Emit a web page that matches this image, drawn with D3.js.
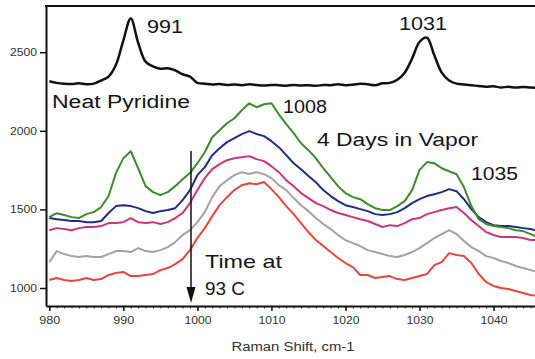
<!DOCTYPE html>
<html>
<head>
<meta charset="utf-8">
<script src="https://cdn.jsdelivr.net/npm/d3@7"></script>
<style>
  html, body { margin: 0; padding: 0; background: #fff; }
  svg { display: block; font-family: Arial, "Liberation Sans", sans-serif; }
</style>
</head>
<body>
<svg id="chart" width="535" height="359"></svg>
<script>
// ---- data ----
const shift = [980,981,982,983,984,985,986,987,988,989,990,991,992,993,994,995,996,997,998,999,
  1000,1001,1002,1003,1004,1005,1006,1007,1008,1009,1010,1011,1012,1013,1014,1015,1016,1017,1018,1019,
  1020,1021,1022,1023,1024,1025,1026,1027,1028,1029,1030,1031,1032,1033,1034,1035,1036,1037,1038,1039,
  1040,1041,1042,1043,1044,1045,1046];

const neatPyridine = [2315,2305,2300,2298,2302,2296,2300,2320,2345,2420,2576,2715,2560,2440,2410,2395,2398,2385,2360,2345,
  2305,2300,2295,2298,2292,2295,2290,2296,2292,2288,2292,2290,2287,2292,2289,2290,2286,2292,2290,2296,
  2290,2293,2300,2296,2290,2302,2305,2325,2370,2460,2565,2592,2480,2370,2320,2300,2295,2290,2285,2280,
  2283,2276,2280,2275,2279,2276,2274];

const days4 = [1451,1476,1464,1451,1445,1470,1483,1515,1585,1731,1826,1870,1762,1648,1610,1591,1610,1648,1692,1731,
  1794,1864,1959,2004,2048,2080,2131,2175,2150,2169,2175,2105,2042,1985,1921,1877,1826,1762,1705,1648,
  1604,1578,1565,1534,1508,1496,1496,1521,1553,1623,1750,1801,1794,1762,1743,1724,1642,1521,1438,1407,
  1394,1388,1381,1368,1362,1343,1324];

const stepBlue = [1445,1438,1432,1426,1426,1419,1419,1426,1477,1521,1527,1521,1508,1489,1477,1489,1496,1508,1559,1623,
  1718,1769,1845,1889,1928,1953,1979,1998,1980,1966,1934,1896,1845,1794,1756,1712,1673,1623,1585,1553,
  1527,1515,1502,1489,1470,1464,1470,1483,1508,1540,1565,1585,1597,1610,1629,1616,1565,1502,1451,1419,
  1400,1394,1394,1388,1381,1375,1362];

const stepMagenta = [1368,1381,1375,1368,1381,1388,1388,1394,1413,1413,1419,1445,1419,1413,1419,1407,1419,1445,1477,1540,
  1623,1699,1756,1788,1813,1826,1832,1839,1820,1807,1775,1737,1686,1648,1604,1572,1540,1521,1496,1477,
  1464,1451,1438,1426,1407,1388,1400,1394,1413,1438,1445,1470,1483,1496,1508,1515,1477,1432,1394,1356,
  1337,1324,1324,1324,1318,1305,1305];

const stepGray = [1165,1235,1216,1203,1197,1203,1197,1197,1216,1235,1235,1229,1254,1235,1229,1241,1260,1292,1337,1368,
  1419,1483,1578,1648,1686,1718,1737,1725,1737,1724,1699,1654,1623,1572,1527,1489,1445,1407,1375,1337,
  1305,1286,1267,1241,1229,1216,1203,1197,1210,1229,1254,1286,1318,1343,1368,1343,1299,1260,1235,1203,
  1191,1172,1159,1140,1127,1114,1102];

const stepRed = [1051,1064,1051,1045,1051,1064,1051,1057,1083,1095,1102,1076,1076,1083,1089,1114,1127,1152,1184,1241,
  1318,1381,1457,1527,1578,1623,1654,1667,1660,1674,1629,1578,1521,1470,1413,1356,1305,1267,1229,1191,
  1159,1133,1083,1083,1064,1070,1076,1057,1051,1064,1076,1089,1146,1165,1222,1210,1203,1159,1089,1038,
  1013,1000,994,981,968,956,949];

const xTicks = [980,990,1000,1010,1020,1030,1040];
const yTicks = [1000,1500,2000,2500];
const xLabel = "Raman Shift, cm-1";

// ---- layout ----
const M = {left: 46, right: 535, top: 6, bottom: 306};
const svg = d3.select("#chart");

const x = d3.scaleLinear().domain([979.55, 1045.6]).range([M.left, M.right]);
const y = d3.scaleLinear().domain([885.6, 2794]).range([M.bottom, M.top]);

svg.append("defs").append("clipPath").attr("id", "plotclip")
  .append("rect").attr("x", M.left).attr("y", M.top).attr("width", M.right - M.left).attr("height", M.bottom - M.top);

// series
const series = [
  {vals: stepRed,     color: "#e5463d", w: 2,   curve: d3.curveLinear},
  {vals: stepGray,    color: "#a3a3a3", w: 2,   curve: d3.curveLinear},
  {vals: stepMagenta, color: "#c8367c", w: 2,   curve: d3.curveLinear},
  {vals: stepBlue,    color: "#1f2d86", w: 2,   curve: d3.curveLinear},
  {vals: days4,       color: "#3f8a2c", w: 2,   curve: d3.curveLinear},
  {vals: neatPyridine,color: "#111111", w: 2.5, curve: d3.curveCatmullRom.alpha(0.5)}
];

const g = svg.append("g").attr("clip-path", "url(#plotclip)");
series.forEach(s => {
  const line = d3.line().x((d, i) => x(shift[i])).y(d => y(d)).curve(s.curve);
  g.append("path").datum(s.vals)
    .attr("d", line)
    .attr("fill", "none")
    .attr("stroke", s.color)
    .attr("stroke-width", s.w)
    .attr("stroke-linejoin", "round");
});

// axes
const minorTicks = d3.range(980, 1046, 1);
svg.append("g").attr("transform", `translate(0,${M.bottom})`)
  .call(d3.axisBottom(x).tickValues(minorTicks).tickSize(2.5).tickFormat(""))
  .call(a => a.select(".domain").remove())
  .call(a => a.selectAll("line").attr("stroke", "#333").attr("stroke-width", 1));

const xAxis = svg.append("g").attr("transform", `translate(0,${M.bottom})`)
  .call(d3.axisBottom(x).tickValues(xTicks).tickFormat(d3.format("d")).tickSize(5).tickSizeOuter(0).tickPadding(5));
xAxis.select(".domain").attr("stroke", "#111").attr("stroke-width", 2);
xAxis.selectAll(".tick line").attr("stroke", "#111").attr("stroke-width", 1.5);
xAxis.selectAll("text").attr("font-size", 11).attr("fill", "#333")
  .attr("font-family", "Arial, 'Liberation Sans', sans-serif")
  .attr("textLength", d => d >= 1000 ? 27 : 21).attr("lengthAdjust", "spacingAndGlyphs");

const yAxis = svg.append("g").attr("transform", `translate(${M.left},0)`)
  .call(d3.axisLeft(y).tickValues(yTicks).tickFormat(d3.format("d")).tickSize(6).tickSizeOuter(0).tickPadding(3));
yAxis.select(".domain").attr("stroke", "#111").attr("stroke-width", 2);
yAxis.selectAll(".tick line").attr("stroke", "#111").attr("stroke-width", 1.5);
yAxis.selectAll("text").attr("font-size", 10).attr("fill", "#333")
  .attr("font-family", "Arial, 'Liberation Sans', sans-serif")
  .attr("textLength", 27).attr("lengthAdjust", "spacingAndGlyphs");

// top frame line
svg.append("line").attr("x1", M.left - 1).attr("x2", M.right).attr("y1", M.top).attr("y2", M.top)
  .attr("stroke", "#111").attr("stroke-width", 2);

// axis title
svg.append("text").attr("x", 293).attr("y", 351).attr("text-anchor", "middle")
  .attr("font-size", 12).attr("fill", "#333")
  .attr("textLength", 123).attr("lengthAdjust", "spacingAndGlyphs")
  .text(xLabel);

// annotations
const notes = [
  {t: "991", x: 147, y: 33, s: 19, w: 36},
  {t: "1031", x: 399, y: 30, s: 19, w: 48},
  {t: "Neat Pyridine", x: 52, y: 108, s: 18, w: 138},
  {t: "1008", x: 283, y: 113, s: 19, w: 44},
  {t: "4 Days in Vapor", x: 317, y: 146, s: 18, w: 161},
  {t: "1035", x: 471, y: 180, s: 19, w: 47},
  {t: "Time at", x: 205, y: 268, s: 19, w: 77},
  {t: "93 C", x: 205, y: 295, s: 19, w: 40}
];
notes.forEach(n => {
  svg.append("text").attr("x", n.x).attr("y", n.y)
    .attr("font-size", n.s).attr("fill", "#151515")
    .attr("textLength", n.w).attr("lengthAdjust", "spacingAndGlyphs")
    .text(n.t);
});

// arrow (time at 93 C)
svg.append("line").attr("x1", 191).attr("x2", 191).attr("y1", 151).attr("y2", 292)
  .attr("stroke", "#111").attr("stroke-width", 1.5);
svg.append("path").attr("d", "M186.5,287 L195.5,287 L191,303 Z").attr("fill", "#111");
</script>
</body>
</html>
